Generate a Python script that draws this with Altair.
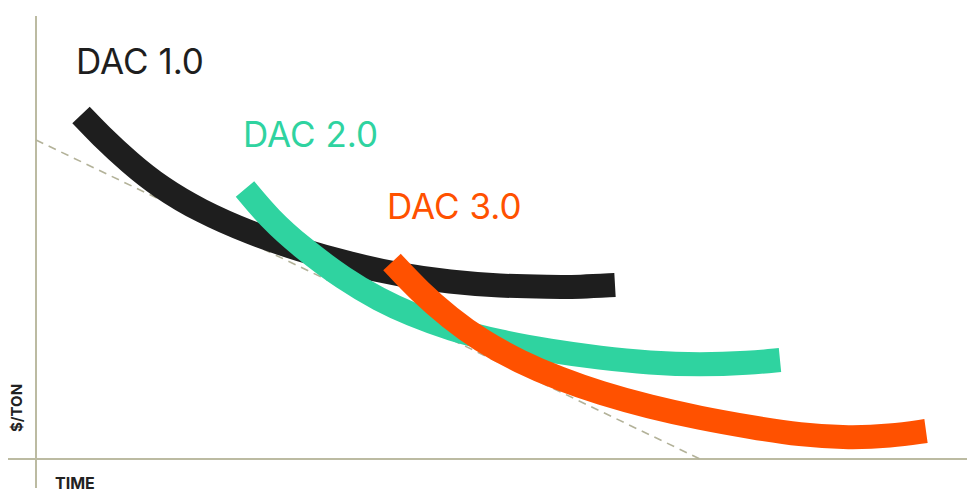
import altair as alt
import pandas as pd

# ---- data (time units, $/ton units) ----
series_names = ["DAC 1.0", "DAC 2.0", "DAC 3.0"]
series_colors = ["#1e1e1e", "#2fd3a0", "#ff5100"]

dac1_time = [4.5, 6.4, 9.4, 12.4, 16.4, 21.4, 26.4, 31.4, 36.4, 41.4, 46.4, 51.4, 54.4, 57.9]
dac1_cost = [34.4, 32.4, 29.6, 27.2, 24.8, 22.6, 20.9, 19.5, 18.4, 17.7, 17.3, 17.2, 17.2, 17.4]

dac2_time = [20.9, 23.4, 26.4, 30.9, 34.4, 37.4, 41.4, 46.4, 51.4, 56.4, 61.4, 66.4, 71.4, 74.4]
dac2_cost = [27.0, 24.0, 21.3, 17.9, 15.9, 14.5, 13.0, 11.7, 10.8, 10.1, 9.6, 9.4, 9.6, 9.9]

dac3_time = [35.6, 38.4, 41.4, 44.4, 48.4, 52.4, 56.4, 61.4, 66.4, 71.4, 76.4, 81.4, 85.4, 89.0]
dac3_cost = [19.7, 16.7, 14.1, 11.9, 9.7, 8.0, 6.6, 5.2, 4.1, 3.2, 2.4, 2.1, 2.3, 2.8]

trend_time = [0.0, 66.4]
trend_cost = [31.9, 0.0]

label_time = [4.0, 20.7, 35.1]
label_cost = [38.5, 31.2, 24.0]

x_axis_time = [-3.2, 93.1]
y_axis_cost = [-2.9, 44.3]

# ---- tables ----
rows = []
for name, ts, cs in zip(series_names, [dac1_time, dac2_time, dac3_time], [dac1_cost, dac2_cost, dac3_cost]):
    for i, (t, c) in enumerate(zip(ts, cs)):
        rows.append({"series": name, "time": t, "cost": c, "i": i})
curves = pd.DataFrame(rows)
trend = pd.DataFrame({"time": trend_time, "cost": trend_cost})
labels = pd.DataFrame({"series": series_names, "time": label_time, "cost": label_cost})
haxis = pd.DataFrame({"time": [x_axis_time[0]], "time2": [x_axis_time[1]], "cost": [0.0]})
vaxis = pd.DataFrame({"time": [0.0], "cost": [y_axis_cost[0]], "cost2": [y_axis_cost[1]]})

xs = alt.Scale(domain=[-2.8, 93.1], nice=False, zero=False)
ys = alt.Scale(domain=[-3.3, 45.1], nice=False, zero=False)
X = lambda f="time": alt.X(f"{f}:Q", scale=xs, axis=None)
Y = lambda f="cost": alt.Y(f"{f}:Q", scale=ys, axis=None)

axis_color = "#bcbba2"

h_rule = alt.Chart(haxis).mark_rule(color=axis_color, strokeWidth=2).encode(
    x=X(), x2="time2:Q", y=Y())
v_rule = alt.Chart(vaxis).mark_rule(color=axis_color, strokeWidth=2).encode(
    x=X(), y=Y(), y2="cost2:Q")
trend_line = alt.Chart(trend).mark_line(color="#b3b299", strokeWidth=1.6, strokeDash=[8, 6]).encode(
    x=X(), y=Y())

layers = [h_rule, v_rule, trend_line]
for name, col in zip(series_names, series_colors):
    layers.append(
        alt.Chart(curves[curves.series == name]).mark_line(
            color=col, strokeWidth=24, strokeCap="butt", interpolate="basis"
        ).encode(x=X(), y=Y(), order="i:Q")
    )

label_layer = alt.Chart(labels).mark_text(
    font="Inter", fontSize=35, align="left", baseline="alphabetic"
).encode(
    x=X(), y=Y(), text="series:N",
    color=alt.Color("series:N", scale=alt.Scale(domain=series_names, range=series_colors), legend=None),
)

ylab = alt.Chart(pd.DataFrame({"t": ["$/TON"], "time": [-1.9], "cost": [5.1]})).mark_text(
    font="Inter", fontSize=15, fontWeight="bold", angle=270, align="center", baseline="middle", color="#222222"
).encode(x=X(), y=Y(), text="t:N")
xlab = alt.Chart(pd.DataFrame({"t": ["TIME"], "time": [1.9], "cost": [-3.0]})).mark_text(
    font="Inter", fontSize=16, fontWeight="bold", align="left", baseline="alphabetic", color="#222222"
).encode(x=X(), y=Y(), text="t:N")

chart = alt.layer(*layers, label_layer, ylab, xlab).properties(
    width=959, height=484, padding=0, autosize="none", background="white"
).configure_view(stroke=None)

chart.save("out.html", embed_options={"renderer": "svg", "actions": False})
